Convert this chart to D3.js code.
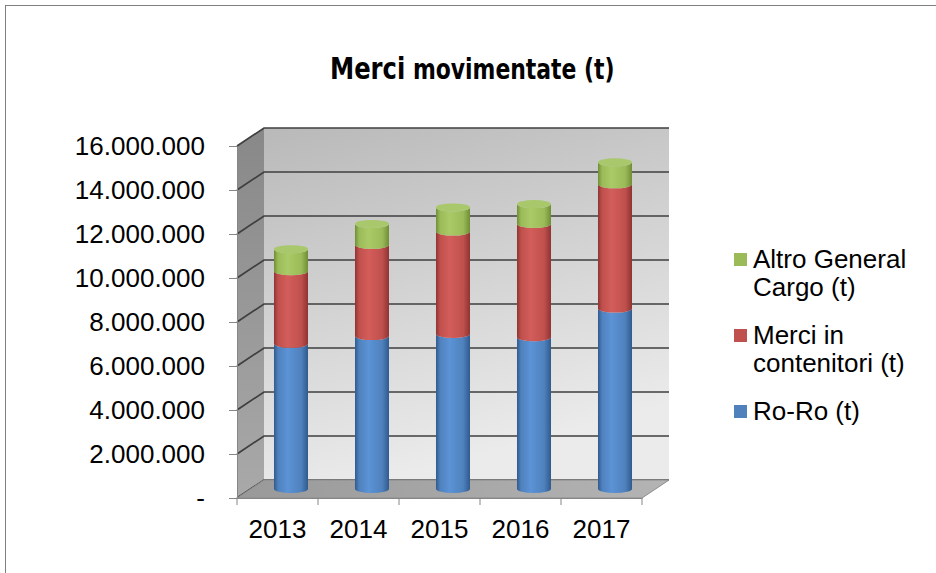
<!DOCTYPE html>
<html>
<head>
<meta charset="utf-8">
<script src="https://cdn.jsdelivr.net/npm/d3@7"></script>
<style>
  body { margin: 0; background: #fff; }
  svg { display: block; }
</style>
</head>
<body>
<svg id="chart" width="936" height="573"></svg>
<script>
// DATA
const years = ["2013", "2014", "2015", "2016", "2017"];
const roRo = [6600000, 6950000, 7050000, 6900000, 8200000];
const contenitori = [3300000, 4150000, 4650000, 5150000, 5650000];
const altroGC = [1000000, 950000, 1100000, 900000, 1000000];
const seriesKeys = ["roRo", "contenitori", "altroGC"];
const legendLabels = [["Altro General", "Cargo (t)"], ["Merci in", "contenitori (t)"], ["Ro-Ro (t)"]];
const legendKeys = ["altroGC", "contenitori", "roRo"];
const yTicks = [0, 2000000, 4000000, 6000000, 8000000, 10000000, 12000000, 14000000, 16000000];

// colours: [base, dark edge, light band, top cap]
const colors = {
  roRo: ["#4f81bd", "#2f5a8e", "#5b93d6", "#6b9fdc"],
  contenitori: ["#c0504d", "#8f3432", "#d35d5a", "#d66c69"],
  altroGC: ["#9bbb59", "#6f8e36", "#a9ca66", "#a8c86b"]
};

const svg = d3.select("#chart");
const font = "'Liberation Sans', Arial, sans-serif";

// chart area border
svg.append("rect")
  .attr("x", 5.5).attr("y", 5.5)
  .attr("width", 1040).attr("height", 600)
  .attr("fill", "#fff").attr("stroke", "#7f7f7f").attr("stroke-width", 1);

// title (condensed a bit so it spans like the original)
const title = svg.append("text")
  .attr("transform", "translate(330,79) scale(0.87,1)")
  .attr("font-family", "'DejaVu Sans Condensed', 'DejaVu Sans', Verdana, sans-serif")
  .attr("font-weight", "bold").attr("fill", "#000");
title.append("tspan").attr("font-size", 31).text("Merci");
title.append("tspan").attr("font-size", 28).text(" movimentate (t)");

// SCALES
const x = d3.scaleBand().domain(years).range([237, 642]).padding(0);
const y = d3.scaleLinear().domain([0, 16000000]).range([498, 146]);
const dx = 27, dy = -18; // depth offset of the 3D box

const it = d3.formatLocale({ decimal: ",", thousands: ".", grouping: [3], currency: ["€", ""] });
const fmt = v => v === 0 ? "-" : it.format(",")(v);

const rows = years.map((yr, i) => ({ year: yr, roRo: roRo[i], contenitori: contenitori[i], altroGC: altroGC[i] }));
const stacked = d3.stack().keys(seriesKeys)(rows);

// GRADIENTS
const defs = svg.append("defs");
const wallGrad = defs.append("linearGradient").attr("id", "backwall")
  .attr("x1", 0).attr("y1", 0).attr("x2", 0.3).attr("y2", 1);
wallGrad.append("stop").attr("offset", "0%").attr("stop-color", "#b9b9b9");
wallGrad.append("stop").attr("offset", "100%").attr("stop-color", "#ebebeb");

const sideGrad = defs.append("linearGradient").attr("id", "sidewall")
  .attr("x1", 0).attr("y1", 0).attr("x2", 0).attr("y2", 1);
sideGrad.append("stop").attr("offset", "0%").attr("stop-color", "#888888");
sideGrad.append("stop").attr("offset", "100%").attr("stop-color", "#a9a9a9");

const floorGrad = defs.append("linearGradient").attr("id", "floor")
  .attr("x1", 0).attr("y1", 0).attr("x2", 1).attr("y2", 0);
floorGrad.append("stop").attr("offset", "0%").attr("stop-color", "#999999");
floorGrad.append("stop").attr("offset", "100%").attr("stop-color", "#b4b4b4");

seriesKeys.forEach(k => {
  const c = colors[k];
  const g = defs.append("linearGradient").attr("id", "cyl-" + k)
    .attr("x1", 0).attr("y1", 0).attr("x2", 1).attr("y2", 0);
  g.append("stop").attr("offset", "0%").attr("stop-color", c[1]);
  g.append("stop").attr("offset", "12%").attr("stop-color", c[0]);
  g.append("stop").attr("offset", "40%").attr("stop-color", c[2]);
  g.append("stop").attr("offset", "80%").attr("stop-color", c[0]);
  g.append("stop").attr("offset", "100%").attr("stop-color", c[1]);
});

// WALLS
const x0 = x.range()[0], x1 = x.range()[1];
const yTop = y(16000000), yZero = y(0);

svg.append("polygon")
  .attr("points", [[x0 + dx, yTop + dy], [x1 + dx, yTop + dy], [x1 + dx, yZero + dy], [x0 + dx, yZero + dy]].join(" "))
  .attr("fill", "url(#backwall)");

svg.append("polygon")
  .attr("points", [[x0, yTop], [x0 + dx, yTop + dy], [x0 + dx, yZero + dy], [x0, yZero]].join(" "))
  .attr("fill", "url(#sidewall)");

// gridlines on back and side wall
const grid = svg.append("g").attr("stroke", "#3f3f3f").attr("stroke-width", 1.7).attr("fill", "none");
grid.selectAll("path.grid").data(yTicks).join("path")
  .attr("class", "grid")
  .attr("d", v => `M${x0},${y(v)}L${x0 + dx},${y(v) + dy}L${x1 + dx},${y(v) + dy}`);

// floor
svg.append("polygon")
  .attr("points", [[x0, yZero], [x0 + dx, yZero + dy], [x1 + dx, yZero + dy], [x1, yZero]].join(" "))
  .attr("fill", "url(#floor)").attr("stroke", "#8c8c8c").attr("stroke-width", 1);

// CYLINDERS
const rx = x.bandwidth() * 0.21, ry = 4;
const cx = d => x(d.data.year) + x.bandwidth() / 2 + dx / 2;
const cy = v => y(v) + dy / 2;

const cyl = svg.append("g");
stacked.forEach(layer => {
  cyl.append("g").selectAll("path").data(layer).join("path")
    .attr("fill", "url(#cyl-" + layer.key + ")")
    .attr("d", d => {
      const c = cx(d), t = cy(d[1]), b = cy(d[0]);
      return `M${c - rx},${t}A${rx},${ry} 0 0 0 ${c + rx},${t}L${c + rx},${b}A${rx},${ry} 0 0 1 ${c - rx},${b}Z`;
    });
});
// top caps
const topLayer = stacked[stacked.length - 1];
cyl.append("g").selectAll("ellipse").data(topLayer).join("ellipse")
  .attr("cx", d => cx(d)).attr("cy", d => cy(d[1]))
  .attr("rx", rx).attr("ry", ry)
  .attr("fill", colors[topLayer.key][3]);

// AXES
const yAxis = svg.append("g").attr("transform", `translate(${x0},0)`)
  .call(d3.axisLeft(y).tickValues(yTicks).tickFormat(fmt).tickSize(8).tickSizeOuter(0).tickPadding(24));
yAxis.select(".domain").attr("stroke", "#868686");
yAxis.selectAll(".tick line").attr("stroke", "#868686");
yAxis.selectAll("text").attr("font-family", font).attr("font-size", 26).attr("fill", "#000");

const xAxis = svg.append("g").attr("transform", `translate(0,${yZero})`)
  .call(d3.axisBottom(x).tickSize(0).tickPadding(22));
xAxis.select(".domain").attr("stroke", "#868686");
xAxis.selectAll("text").attr("font-family", font).attr("font-size", 26).attr("fill", "#000");
// tick marks at category boundaries
xAxis.selectAll("line.sep").data(years.concat(["end"])).join("line")
  .attr("class", "sep")
  .attr("x1", (d, i) => x0 + i * x.step()).attr("x2", (d, i) => x0 + i * x.step())
  .attr("y1", 0).attr("y2", 7)
  .attr("stroke", "#868686");

// LEGEND
const lineH = 28, gap = 48;
let base = 268;
const legend = svg.append("g").attr("font-family", font).attr("font-size", 26);
legendKeys.forEach((k, i) => {
  legend.append("rect")
    .attr("x", 734).attr("y", base - 15).attr("width", 13).attr("height", 13)
    .attr("fill", colors[k][0]);
  const t = legend.append("text").attr("x", 753).attr("y", base).attr("fill", "#000");
  legendLabels[i].forEach((ln, j) => {
    t.append("tspan").attr("x", 753).attr("y", base + j * lineH).text(ln);
  });
  base += (legendLabels[i].length - 1) * lineH + gap;
});
</script>
</body>
</html>
